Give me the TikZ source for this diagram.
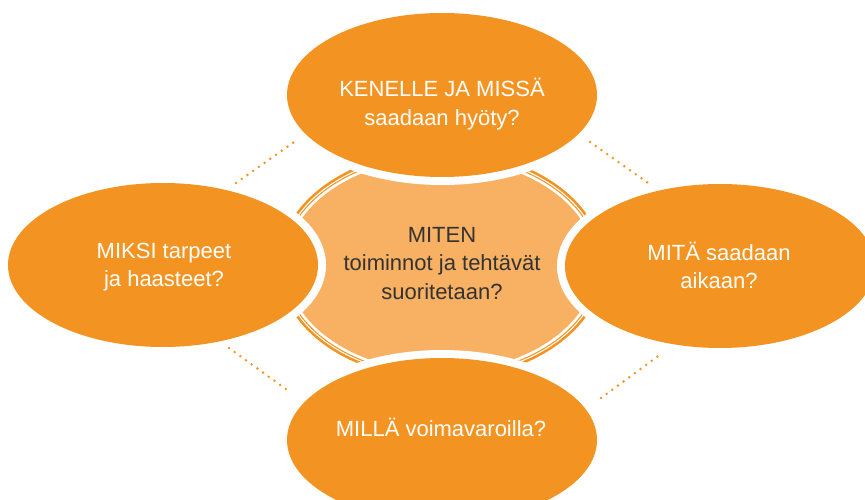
\documentclass[tikz,border=0pt]{standalone}
\usepackage{fontspec}
\setmainfont{Liberation Sans}
\usetikzlibrary{shapes.geometric}
\definecolor{orng}{RGB}{243,148,34}
\definecolor{lorng}{RGB}{248,176,98}
\definecolor{txtdark}{RGB}{51,51,51}
\newcommand\mytop{\rule{0pt}{22pt}}
\newcommand\mybot{\rule[-22pt]{0pt}{22pt}}
\tikzset{
  petal/.style={ellipse, inner sep=0pt, fill=orng, minimum width=310pt, minimum height=164pt,
    preaction={draw=white, line width=16pt}},
  txt/.style={align=center, inner sep=0pt, font=\fontsize{22pt}{28.5pt}\selectfont},
  wtxt/.style={txt, text=white},
  dtxt/.style={txt, text=txtdark},
  dotline/.style={draw=orng, line width=2.8pt, line cap=round, dash pattern=on 0pt off 7pt}
}
\begin{document}
\begin{tikzpicture}[x=1pt,y=-1pt]
\useasboundingbox (0,0) rectangle (865,500);
\clip (0,0) rectangle (865,500);
% centre shape with double border
\fill[orng]  (441,265) ellipse [x radius=162.5pt, y radius=114.5pt];
\fill[white] (441,265) ellipse [x radius=159.8pt, y radius=111.8pt];
\fill[orng]  (441,265) ellipse [x radius=158.6pt, y radius=110.6pt];
\fill[white] (441,265) ellipse [x radius=157.4pt, y radius=109.4pt];
\fill[lorng] (441,265) ellipse [x radius=154.6pt, y radius=106.6pt];
% petals
\node[petal] (ptop) at (442,95) {};
\node[petal] (pleft) at (163,265) {};
\node[petal] (pright) at (720,266) {};
\node[petal] (pbottom) at (442,440) {};
% texts
\node[wtxt] (ttop) at (442,111) {\mytop KENELLE JA MISSÄ\\saadaan hyöty?\mybot};
\node[wtxt] (tleft) at (164,272.5) {\mytop MIKSI tarpeet\\ja haasteet?\mybot};
\node[wtxt] (tright) at (719,274.5) {\mytop MITÄ saadaan\\aikaan?\mybot};
\node[wtxt] (tbottom) at (441,436) {\mytop MILLÄ voimavaroilla?\mybot};
\node[dtxt] (tcenter) at (442,270.5) {\mytop MITEN\\toiminnot ja tehtävät\\suoritetaan?\mybot};
% dotted lines
\coordinate (d1a) at (236,183); \coordinate (d1b) at (297,140);
\coordinate (d2a) at (590,142); \coordinate (d2b) at (651,185);
\coordinate (d3a) at (229,348); \coordinate (d3b) at (290,392);
\coordinate (d4a) at (601,398); \coordinate (d4b) at (661,354);
\draw[dotline] (d1a) -- (d1b);
\draw[dotline] (d2a) -- (d2b);
\draw[dotline] (d3a) -- (d3b);
\draw[dotline] (d4a) -- (d4b);
\end{tikzpicture}
\end{document}
